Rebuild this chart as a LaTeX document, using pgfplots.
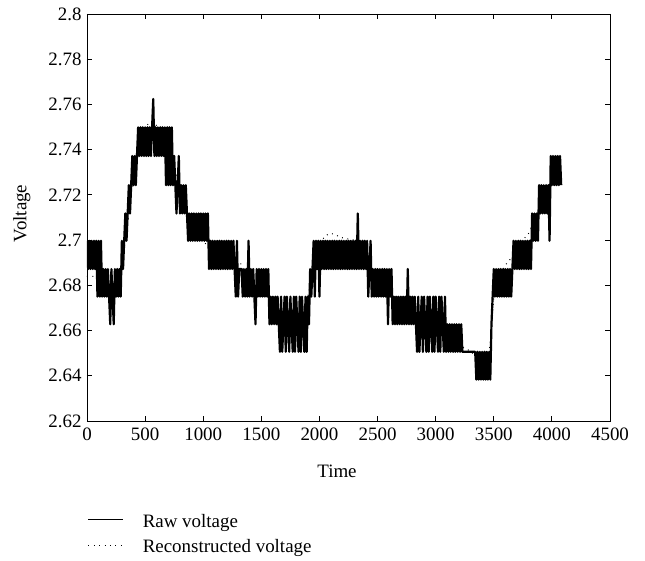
\documentclass[border=0pt]{standalone}
\usepackage{fontspec}
\setmainfont{Liberation Serif}
\usepackage{pgfplots}
\pgfplotsset{compat=1.18}

\begin{document}
\begin{tikzpicture}[font=\fontsize{19}{22}\selectfont]
\begin{axis}[
    scale only axis,
    width=523bp, height=407bp,
    xmin=0, xmax=4500,
    ymin=2.62, ymax=2.8,
    xtick={0,500,...,4500},
    ytick={2.62,2.64,...,2.81},
    /pgf/number format/1000 sep={},
    /pgf/number format/assume math mode=true,
    scaled ticks=false,
    axis line style={line width=0.8bp},
    every tick/.style={black, line width=0.8bp},
    major tick length=5bp,
    xticklabel style={yshift=-3bp},
    yticklabel style={xshift=-2bp},
    xlabel={Time},
    ylabel={Voltage},
    xlabel style={at={(axis description cs:0.478,0)}, anchor=base, yshift=-56bp},
    ylabel style={at={(axis description cs:-0.116,0.51)}, anchor=base, rotate=0},
    legend cell align=left,
    legend image code/.code={\draw[#1, line width=0.8bp] (0bp,3bp) -- (35bp,3bp);},
    legend style={draw=none, fill=none, inner sep=0pt, outer sep=0pt,
        at={(axis description cs:0,0)}, anchor=north west,
        xshift=1bp, yshift=-89bp, column sep=16bp, row sep=0.5bp,
        nodes={inner sep=3bp, text height=14bp, text depth=5bp}},
]
\coordinate (sw) at (rel axis cs:0,0);

% raw samples, jumping between neighbouring ADC levels
\addplot[black, line width=2.2bp, line join=round] coordinates {
(0,2.6997)(10,2.6872)(20,2.6997)(30,2.6872)(40,2.6997)(50,2.6872)(60,2.6997)(70,2.6872)(80,2.6997)(90,2.6750)
(100,2.6997)(110,2.6750)(120,2.6997)(130,2.6750)(140,2.6872)(150,2.6750)(160,2.6872)(170,2.6750)(180,2.6872)(190,2.6750)
(200,2.6628)(210,2.6872)(220,2.6750)(230,2.6628)(240,2.6872)(250,2.6750)(260,2.6872)(270,2.6750)(280,2.6872)(290,2.6750)
(300,2.6997)(310,2.6872)(320,2.6997)(330,2.7118)(340,2.6997)(350,2.7118)(360,2.7243)(370,2.7118)(380,2.7243)(390,2.7372)
(400,2.7243)(410,2.7372)(420,2.7243)(430,2.7372)(440,2.7499)(450,2.7372)(460,2.7499)(470,2.7372)(480,2.7499)(490,2.7372)
(500,2.7499)(510,2.7372)(520,2.7499)(530,2.7372)(540,2.7499)(550,2.7372)(560,2.7499)(570,2.7624)(580,2.7372)(590,2.7499)
(600,2.7372)(610,2.7499)(620,2.7372)(630,2.7499)(640,2.7372)(650,2.7499)(660,2.7372)(670,2.7499)(680,2.7243)(690,2.7499)
(700,2.7243)(710,2.7499)(720,2.7243)(730,2.7499)(740,2.7243)(750,2.7372)(760,2.7243)(770,2.7118)(780,2.7243)(790,2.7372)
(800,2.7118)(810,2.7243)(820,2.7118)(830,2.7243)(840,2.7118)(850,2.7243)(860,2.7118)(870,2.6997)(880,2.7118)(890,2.6997)
(900,2.7118)(910,2.6997)(920,2.7118)(930,2.6997)(940,2.7118)(950,2.6997)(960,2.7118)(970,2.6997)(980,2.7118)(990,2.6997)
(1000,2.7118)(1010,2.6997)(1020,2.7118)(1030,2.6997)(1040,2.7118)(1050,2.6872)(1060,2.6997)(1070,2.6872)(1080,2.6997)(1090,2.6872)
(1100,2.6997)(1110,2.6872)(1120,2.6997)(1130,2.6872)(1140,2.6997)(1150,2.6872)(1160,2.6997)(1170,2.6872)(1180,2.6997)(1190,2.6872)
(1200,2.6997)(1210,2.6872)(1220,2.6997)(1230,2.6872)(1240,2.6997)(1250,2.6872)(1260,2.6997)(1270,2.6872)(1280,2.6750)(1290,2.6997)
(1300,2.6750)(1310,2.6872)(1320,2.6872)(1330,2.6872)(1340,2.6750)(1350,2.6872)(1360,2.6750)(1370,2.6872)(1380,2.6750)(1390,2.6997)
(1400,2.6750)(1410,2.6872)(1420,2.6750)(1430,2.6872)(1440,2.6750)(1450,2.6628)(1460,2.6872)(1470,2.6750)(1480,2.6872)(1490,2.6750)
(1500,2.6872)(1510,2.6750)(1520,2.6872)(1530,2.6750)(1540,2.6872)(1550,2.6750)(1560,2.6872)(1570,2.6628)(1580,2.6750)(1590,2.6628)
(1600,2.6750)(1610,2.6628)(1620,2.6750)(1630,2.6628)(1640,2.6750)(1650,2.6628)(1660,2.6506)(1670,2.6750)(1680,2.6506)(1690,2.6628)
(1700,2.6750)(1710,2.6506)(1720,2.6750)(1730,2.6628)(1740,2.6506)(1750,2.6750)(1760,2.6628)(1770,2.6506)(1780,2.6750)(1790,2.6506)
(1800,2.6750)(1810,2.6628)(1820,2.6506)(1830,2.6750)(1840,2.6506)(1850,2.6750)(1860,2.6628)(1870,2.6506)(1880,2.6750)(1890,2.6506)
(1900,2.6750)(1910,2.6628)(1920,2.6872)(1930,2.6750)(1940,2.6872)(1950,2.6997)(1960,2.6750)(1970,2.6997)(1980,2.6872)(1990,2.6997)
(2000,2.6750)(2010,2.6997)(2020,2.6872)(2030,2.6997)(2040,2.6872)(2050,2.6997)(2060,2.6872)(2070,2.6997)(2080,2.6872)(2090,2.6997)
(2100,2.6872)(2110,2.6997)(2120,2.6872)(2130,2.6997)(2140,2.6872)(2150,2.6997)(2160,2.6872)(2170,2.6997)(2180,2.6872)(2190,2.6997)
(2200,2.6872)(2210,2.6997)(2220,2.6872)(2230,2.6997)(2240,2.6872)(2250,2.6997)(2260,2.6872)(2270,2.6997)(2280,2.6872)(2290,2.6997)
(2300,2.6872)(2310,2.6997)(2320,2.6872)(2330,2.7118)(2340,2.6872)(2350,2.6997)(2360,2.6872)(2370,2.6997)(2380,2.6872)(2390,2.6997)
(2400,2.6872)(2410,2.6997)(2420,2.6750)(2430,2.6872)(2440,2.6997)(2450,2.6750)(2460,2.6872)(2470,2.6750)(2480,2.6872)(2490,2.6750)
(2500,2.6872)(2510,2.6750)(2520,2.6872)(2530,2.6750)(2540,2.6872)(2550,2.6750)(2560,2.6872)(2570,2.6750)(2580,2.6872)(2590,2.6628)
(2600,2.6872)(2610,2.6750)(2620,2.6872)(2630,2.6628)(2640,2.6750)(2650,2.6628)(2660,2.6750)(2670,2.6628)(2680,2.6750)(2690,2.6628)
(2700,2.6750)(2710,2.6628)(2720,2.6750)(2730,2.6628)(2740,2.6750)(2750,2.6628)(2760,2.6872)(2770,2.6628)(2780,2.6750)(2790,2.6628)
(2800,2.6750)(2810,2.6628)(2820,2.6750)(2830,2.6628)(2840,2.6506)(2850,2.6750)(2860,2.6506)(2870,2.6628)(2880,2.6750)(2890,2.6506)
(2900,2.6750)(2910,2.6628)(2920,2.6506)(2930,2.6750)(2940,2.6506)(2950,2.6750)(2960,2.6628)(2970,2.6506)(2980,2.6750)(2990,2.6506)
(3000,2.6750)(3010,2.6628)(3020,2.6506)(3030,2.6750)(3040,2.6506)(3050,2.6750)(3060,2.6628)(3070,2.6506)(3080,2.6750)(3090,2.6506)
(3100,2.6628)(3110,2.6506)(3120,2.6628)(3130,2.6506)(3140,2.6628)(3150,2.6506)(3160,2.6628)(3170,2.6506)(3180,2.6628)(3190,2.6506)
(3200,2.6628)(3210,2.6506)(3220,2.6628)(3230,2.6506)(3340,2.6506)(3350,2.6383)(3360,2.6506)(3370,2.6383)(3380,2.6506)(3390,2.6383)
(3400,2.6506)(3410,2.6383)(3420,2.6506)(3430,2.6383)(3440,2.6506)(3450,2.6383)(3460,2.6506)(3470,2.6383)(3480,2.6628)(3490,2.6750)
(3500,2.6872)(3510,2.6750)(3520,2.6872)(3530,2.6750)(3540,2.6872)(3550,2.6750)(3560,2.6872)(3570,2.6750)(3580,2.6872)(3590,2.6750)
(3600,2.6872)(3610,2.6750)(3620,2.6872)(3630,2.6750)(3640,2.6872)(3650,2.6750)(3660,2.6872)(3670,2.6997)(3680,2.6872)(3690,2.6997)
(3700,2.6872)(3710,2.6997)(3720,2.6872)(3730,2.6997)(3740,2.6872)(3750,2.6997)(3760,2.6872)(3770,2.6997)(3780,2.6872)(3790,2.6997)
(3800,2.6872)(3810,2.6997)(3820,2.6872)(3830,2.7118)(3840,2.6997)(3850,2.7118)(3860,2.6997)(3870,2.7118)(3880,2.6997)(3890,2.7243)
(3900,2.7118)(3910,2.7243)(3920,2.7118)(3930,2.7243)(3940,2.7118)(3950,2.7243)(3960,2.7118)(3970,2.7243)(3980,2.6997)(3990,2.7372)
(4000,2.7243)(4010,2.7372)(4020,2.7243)(4030,2.7372)(4040,2.7243)(4050,2.7372)(4060,2.7243)(4070,2.7372)(4080,2.7243)
};
\addlegendentry{Raw voltage}

% smooth reconstruction
\addplot[black, line width=1bp, dash pattern=on 0.9bp off 4.5bp] coordinates {
(0,2.684)(50,2.684)(100,2.683)(150,2.681)(200,2.680)(250,2.681)(300,2.690)(330,2.700)
(360,2.712)(390,2.725)(420,2.737)(460,2.745)(500,2.750)(540,2.752)(580,2.752)(620,2.749)
(660,2.745)(700,2.740)(740,2.734)(780,2.726)(820,2.718)(860,2.712)(900,2.706)(950,2.703)
(1000,2.700)(1050,2.696)(1100,2.694)(1150,2.693)(1200,2.692)(1250,2.692)(1300,2.690)(1320,2.690)
(1350,2.685)(1400,2.682)(1450,2.680)(1500,2.678)(1560,2.675)(1600,2.671)(1700,2.668)(1800,2.668)
(1880,2.670)(1920,2.680)(1960,2.690)(2000,2.698)(2050,2.702)(2100,2.703)(2150,2.702)(2200,2.701)
(2300,2.700)(2380,2.698)(2420,2.690)(2450,2.683)(2500,2.680)(2600,2.677)(2700,2.672)(2800,2.668)
(2900,2.665)(3000,2.662)(3100,2.658)(3200,2.654)(3250,2.652)(3300,2.651)(3350,2.648)(3400,2.645)
(3450,2.645)(3480,2.660)(3500,2.675)(3550,2.684)(3600,2.689)(3650,2.692)(3700,2.697)(3750,2.700)
(3800,2.703)(3850,2.708)(3900,2.716)(3950,2.722)(4000,2.726)(4050,2.730)(4080,2.732)
};
\addlegendentry{Reconstructed voltage}
\end{axis}
\path (sw) ++(-87bp,-137bp) rectangle ++(645bp,558bp);
\end{tikzpicture}
\end{document}
